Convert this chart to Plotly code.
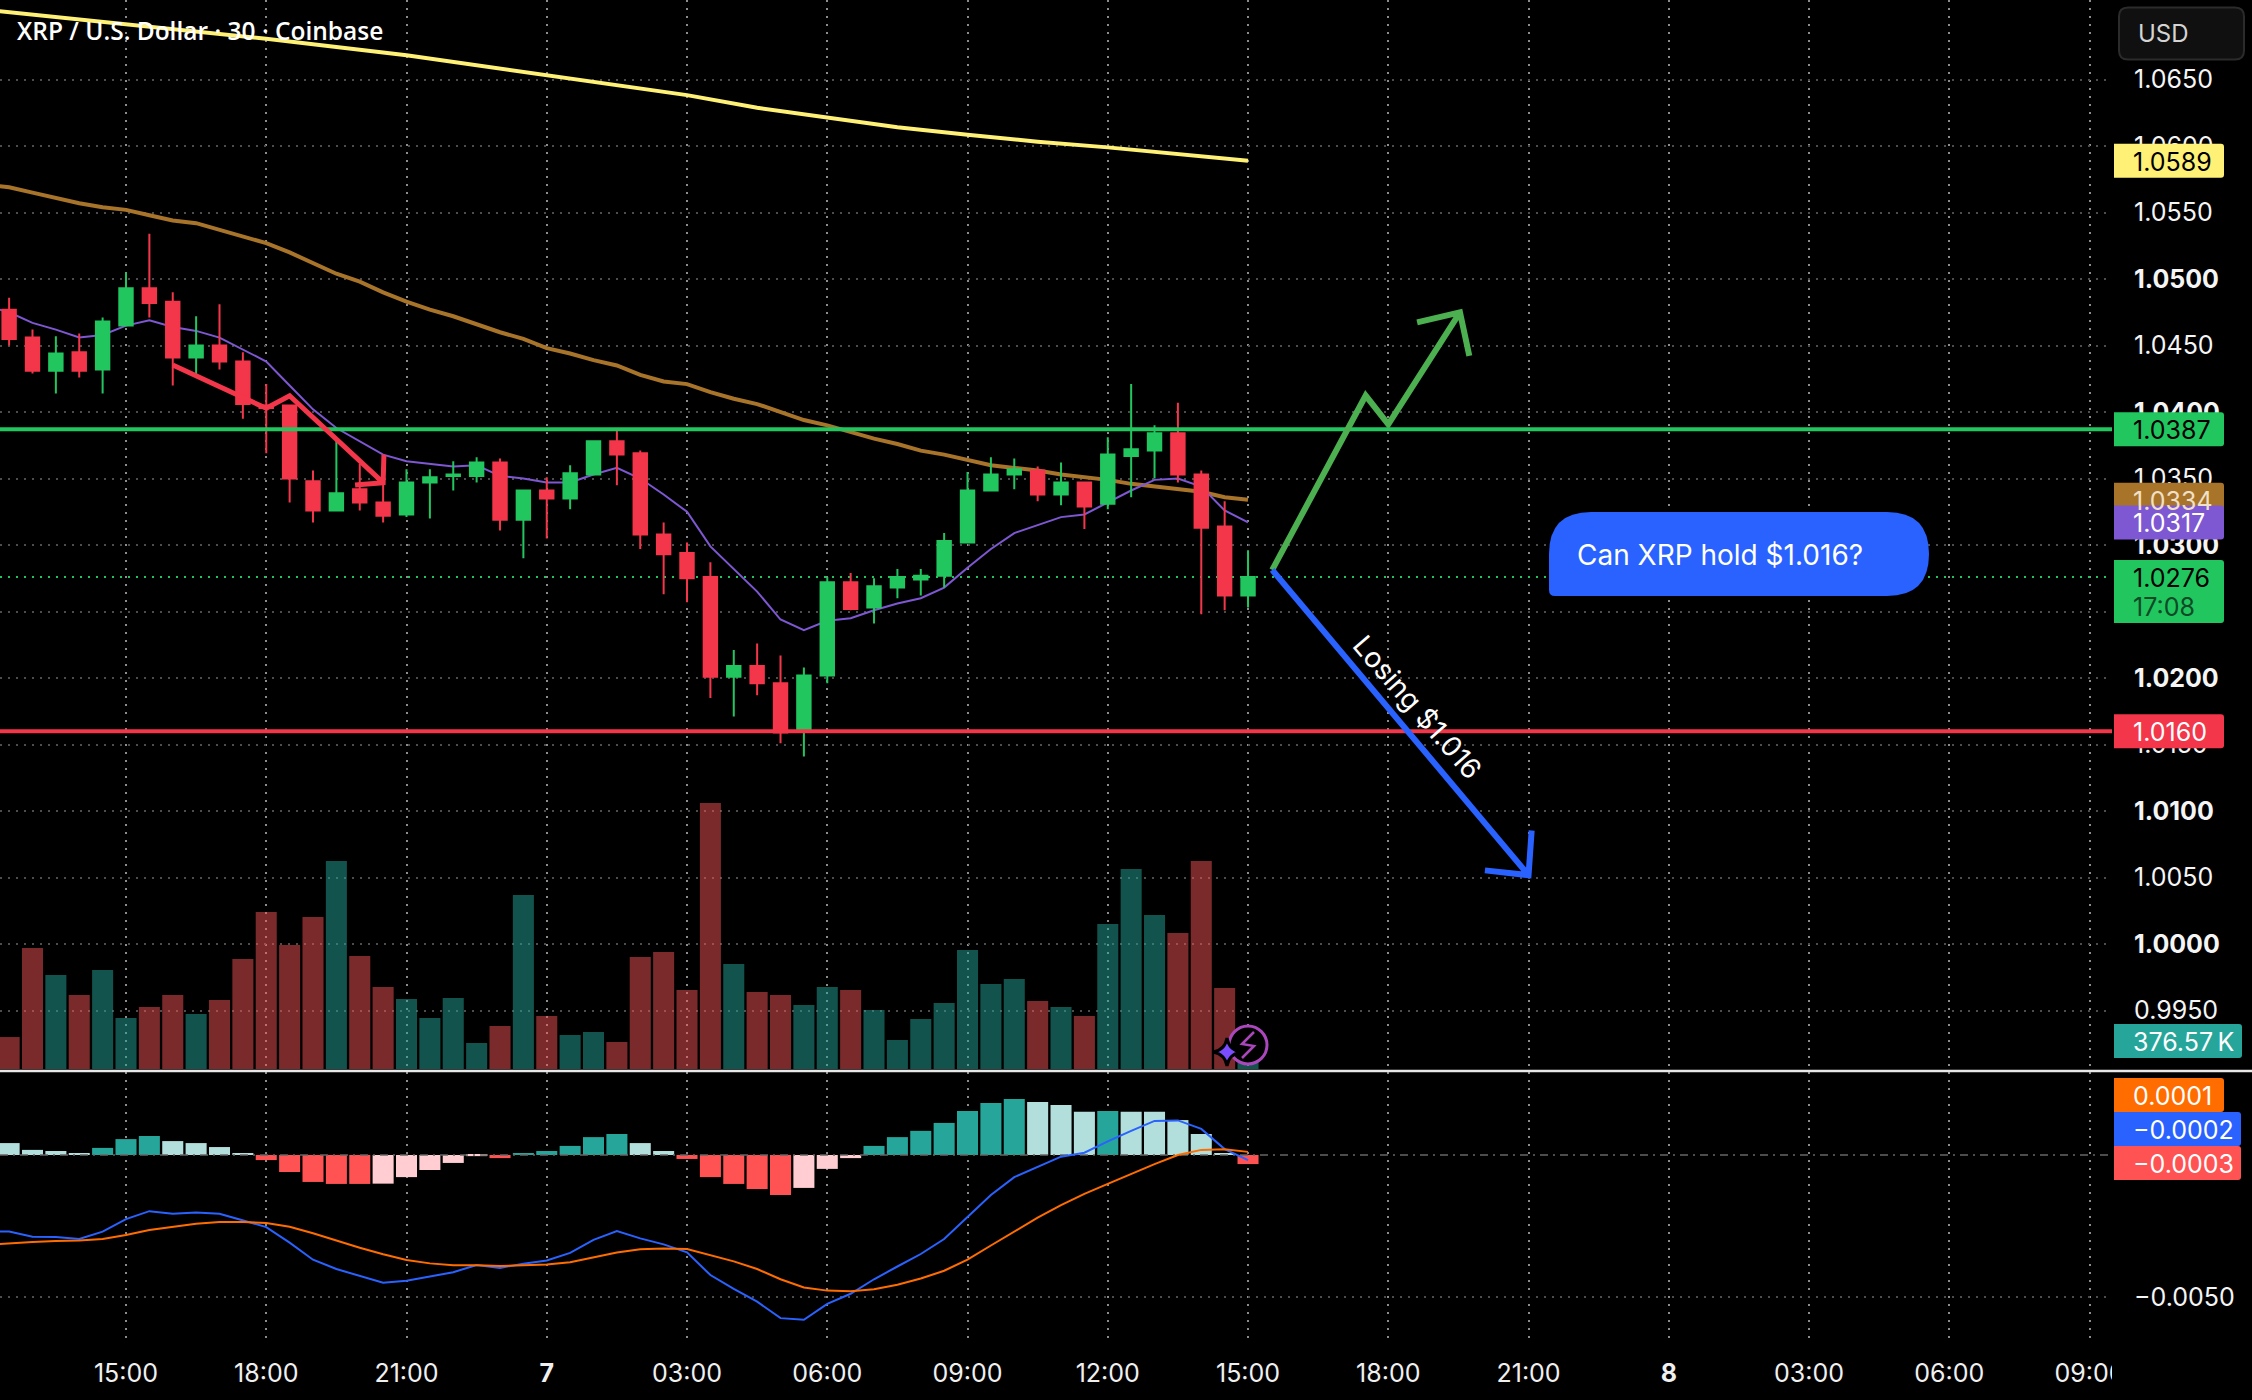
import pandas as pd
import plotly.graph_objects as go

W, H = 2252, 1400
RED = "#F4364A"
GREEN = "#22C65F"
FONT = "Inter"
TICK_SIZE = 25

# candles, 30 min bars from 12:30 on the 6th to 15:00 on the 7th
bar_times = pd.date_range("2021-12-06 12:30", periods=54, freq="30min")
line_times = pd.date_range("2021-12-06 12:00", periods=55, freq="30min")
opens = [1.0477, 1.0456, 1.0431, 1.0445, 1.0432, 1.0465, 1.0493, 1.0483, 1.0441, 1.0450, 1.0438,
         1.0405, 1.0405, 1.0348, 1.0326, 1.0342, 1.0332, 1.0323, 1.0347, 1.0352, 1.0352, 1.0362,
         1.0319, 1.0341, 1.0335, 1.0353, 1.0378, 1.0369, 1.0308, 1.0294, 1.0276, 1.0201, 1.0209,
         1.0196, 1.0160, 1.0202, 1.0272, 1.0253, 1.0268, 1.0274, 1.0277, 1.0302, 1.0341, 1.0353,
         1.0356, 1.0338, 1.0347, 1.0331, 1.0367, 1.0371, 1.0384, 1.0353, 1.0314, 1.0262]
highs = [1.0486, 1.0462, 1.0457, 1.0459, 1.0471, 1.0505, 1.0534, 1.0490, 1.0472, 1.0481, 1.0445,
         1.0421, 1.0405, 1.0356, 1.0380, 1.0361, 1.0368, 1.0357, 1.0357, 1.0363, 1.0366, 1.0365,
         1.0341, 1.0351, 1.0360, 1.0378, 1.0386, 1.0371, 1.0317, 1.0302, 1.0287, 1.0221, 1.0226,
         1.0217, 1.0208, 1.0276, 1.0279, 1.0275, 1.0282, 1.0282, 1.0309, 1.0355, 1.0366, 1.0365,
         1.0359, 1.0362, 1.0347, 1.0381, 1.0421, 1.0390, 1.0407, 1.0356, 1.0333, 1.0296]
lows = [1.0450, 1.0429, 1.0414, 1.0426, 1.0414, 1.0465, 1.0471, 1.0420, 1.0426, 1.0432, 1.0395,
        1.0369, 1.0332, 1.0317, 1.0326, 1.0326, 1.0317, 1.0321, 1.0320, 1.0341, 1.0347, 1.0311,
        1.0290, 1.0305, 1.0327, 1.0353, 1.0345, 1.0297, 1.0263, 1.0257, 1.0185, 1.0171, 1.0187,
        1.0151, 1.0141, 1.0196, 1.0251, 1.0241, 1.0260, 1.0262, 1.0268, 1.0302, 1.0341, 1.0342,
        1.0333, 1.0330, 1.0312, 1.0327, 1.0336, 1.0350, 1.0347, 1.0248, 1.0251, 1.0253]
closes = [1.0455, 1.0431, 1.0444, 1.0431, 1.0468, 1.0493, 1.0482, 1.0441, 1.0450, 1.0438, 1.0406,
          1.0403, 1.0350, 1.0326, 1.0339, 1.0332, 1.0322, 1.0347, 1.0351, 1.0353, 1.0362, 1.0319,
          1.0341, 1.0335, 1.0354, 1.0378, 1.0368, 1.0308, 1.0293, 1.0275, 1.0201, 1.0209, 1.0196,
          1.0159, 1.0202, 1.0272, 1.0252, 1.0269, 1.0276, 1.0277, 1.0303, 1.0341, 1.0353, 1.0357,
          1.0338, 1.0347, 1.0329, 1.0368, 1.0372, 1.0384, 1.0353, 1.0313, 1.0262, 1.0276]

# volume in thousands
volume = [430, 1627, 1264, 995, 1332, 686, 834, 995, 740, 928, 1480, 2112, 1668, 2044, 2798, 1520,
          1103, 942, 686, 955, 350, 578, 2340, 713, 457, 498, 363, 1506, 1574, 1063, 3578, 1412,
          1036, 995, 861, 1103, 1063, 794, 390, 673, 888, 1601, 1143, 1211, 915, 834, 713, 1950,
          2690, 2071, 1829, 2798, 1089, 376.57]

# moving averages
ma_slow_times = ["2021-12-06 12:00", "2021-12-06 15:00", "2021-12-06 18:00", "2021-12-06 21:00",
                 "2021-12-07 00:00", "2021-12-07 03:00", "2021-12-07 04:30", "2021-12-07 06:00",
                 "2021-12-07 07:30", "2021-12-07 09:00", "2021-12-07 10:30", "2021-12-07 12:00",
                 "2021-12-07 13:30", "2021-12-07 15:00"]
ma_slow = [1.07025, 1.06917, 1.06807, 1.06682, 1.06534, 1.06383, 1.06288, 1.06213, 1.06141,
           1.06085, 1.06032, 1.05990, 1.05938, 1.05890]
ma_mid = [1.0571, 1.0569, 1.0565, 1.0561, 1.0557, 1.0554, 1.0552, 1.0548, 1.0544, 1.0542, 1.0537,
          1.0532, 1.0527, 1.0520, 1.0512, 1.0504, 1.0498, 1.0490, 1.0483, 1.0477, 1.0472, 1.0466,
          1.0460, 1.0455, 1.0448, 1.0444, 1.0439, 1.0435, 1.0428, 1.0423, 1.0421, 1.0415, 1.0410,
          1.0406, 1.0400, 1.0394, 1.0390, 1.0385, 1.0380, 1.0376, 1.0371, 1.0368, 1.0364, 1.0360,
          1.0358, 1.0356, 1.0353, 1.0351, 1.0349, 1.0346, 1.0344, 1.0342, 1.0340, 1.0336, 1.0334]
ma_fast = [1.0480, 1.0475, 1.0467, 1.0462, 1.0456, 1.0458, 1.0465, 1.0469, 1.0464, 1.0461, 1.0456,
           1.0447, 1.0438, 1.0420, 1.0402, 1.0388, 1.0378, 1.0368, 1.0363, 1.0361, 1.0359, 1.0360,
           1.0352, 1.0350, 1.0347, 1.0347, 1.0353, 1.0358, 1.0350, 1.0338, 1.0325, 1.0299, 1.0282,
           1.0265, 1.0244, 1.0236, 1.0243, 1.0245, 1.0251, 1.0256, 1.0260, 1.0268, 1.0283, 1.0297,
           1.0309, 1.0315, 1.0321, 1.0323, 1.0332, 1.0341, 1.0349, 1.0350, 1.0344, 1.0326, 1.0317]

# macd pane
hist = [0.00042, 0.00018, 0.00014, 0.00007, 0.00025, 0.00056, 0.00067, 0.00049, 0.00042, 0.00028,
        0.00004, -0.00018, -0.00060, -0.00095, -0.00102, -0.00102, -0.00101, -0.00078, -0.00053,
        -0.00028, -0.00004, -0.00011, 0.00007, 0.00014, 0.00032, 0.00063, 0.00074, 0.00042,
        0.00014, -0.00014, -0.00078, -0.00102, -0.00120, -0.00141, -0.00116, -0.00049, -0.00011,
        0.00032, 0.00063, 0.00085, 0.00113, 0.00155, 0.00183, 0.00197, 0.00187, 0.00176, 0.00152,
        0.00155, 0.00152, 0.00152, 0.00123, 0.00074, 0.00007, -0.00032]
macd = [-0.00268, -0.00270, -0.00288, -0.00289, -0.00296, -0.00270, -0.00226, -0.00198, -0.00207,
        -0.00203, -0.00207, -0.00231, -0.00254, -0.00309, -0.00369, -0.00402, -0.00426, -0.00450,
        -0.00443, -0.00429, -0.00413, -0.00388, -0.00398, -0.00383, -0.00372, -0.00345, -0.00299,
        -0.00268, -0.00294, -0.00315, -0.00343, -0.00423, -0.00472, -0.00517, -0.00575, -0.00581,
        -0.00525, -0.00489, -0.00438, -0.00393, -0.00349, -0.00296, -0.00218, -0.00141, -0.00078,
        -0.00041, -0.00006, 0.00008, 0.00048, 0.00085, 0.00120, 0.00122, 0.00092, 0.00021, -0.00018]
signal = [-0.00317, -0.00311, -0.00307, -0.00303, -0.00301, -0.00296, -0.00282, -0.00264, -0.00253,
          -0.00242, -0.00236, -0.00236, -0.00240, -0.00253, -0.00276, -0.00302, -0.00327, -0.00350,
          -0.00370, -0.00382, -0.00389, -0.00389, -0.00391, -0.00389, -0.00386, -0.00378, -0.00362,
          -0.00344, -0.00332, -0.00330, -0.00331, -0.00352, -0.00375, -0.00402, -0.00438, -0.00467,
          -0.00478, -0.00480, -0.00473, -0.00457, -0.00435, -0.00408, -0.00369, -0.00319, -0.00269,
          -0.00221, -0.00177, -0.00137, -0.00102, -0.00067, -0.00032, 0.0, 0.00018, 0.00020, 0.00011]

# hand drawn lines on the chart
red_arrow_x = ["2021-12-06 16:00", "2021-12-06 18:00", "2021-12-06 18:30", "2021-12-06 20:30",
               "2021-12-06 19:54", "2021-12-06 20:30", "2021-12-06 20:31"]
red_arrow_y = [1.04354, 1.04028, 1.04123, 1.03469, 1.03451, 1.03469, 1.03677]
green_arrow_x = ["2021-12-07 15:31", "2021-12-07 17:31", "2021-12-07 18:00", "2021-12-07 19:32",
                 "2021-12-07 18:37", "2021-12-07 19:32", "2021-12-07 19:44"]
green_arrow_y = [1.02813, 1.04124, 1.03907, 1.04749, 1.04674, 1.04749, 1.04422]
blue_arrow_x = ["2021-12-07 15:31", "2021-12-07 21:00", "2021-12-07 20:04", "2021-12-07 21:00",
                "2021-12-07 21:04"]
blue_arrow_y = [1.02813, 1.00518, 1.00554, 1.00518, 1.00854]

support = 1.0160
resistance = 1.0387
last_price = 1.0276

x_range = ["2021-12-06 12:18:18", "2021-12-08 09:28:48"]
time_ticks = pd.date_range("2021-12-06 15:00", "2021-12-08 09:00", freq="3h")
time_labels = ["15:00", "18:00", "21:00", "<b>7</b>", "03:00", "06:00", "09:00", "12:00", "15:00",
               "18:00", "21:00", "<b>8</b>", "03:00", "06:00", "09:00"]
price_ticks = [1.065, 1.06, 1.055, 1.05, 1.045, 1.04, 1.035, 1.03, 1.025, 1.02, 1.015, 1.01, 1.005,
               1.0, 0.995]
price_labels = ["1.0650", "1.0600", "1.0550", "<b>1.0500</b>", "1.0450", "<b>1.0400</b>", "1.0350",
                "<b>1.0300</b>", "1.0250", "<b>1.0200</b>", "1.0150", "<b>1.0100</b>", "1.0050",
                "<b>1.0000</b>", "0.9950"]
price_range = [0.99053, 1.07098]


def px(x):
    return x / W


def py(y):
    return 1 - y / H


def tag_path(w, up, down, r=3):
    return (f"M0,{up} H{w - r} Q{w},{up} {w},{up - r} V{down + r} Q{w},{down} {w - r},{down} "
            f"H0 Z")


fig = go.Figure()

# volume is the base layer, everything else sits on overlays
vol_colors = ["rgba(38,166,154,0.5)" if c >= o else "rgba(244,84,84,0.5)"
              for o, c in zip(opens, closes)]
fig.add_trace(go.Bar(x=bar_times, y=volume, marker=dict(color=vol_colors, line_width=0),
                     xaxis="x", yaxis="y"))

fig.add_trace(go.Scatter(x=x_range, y=[last_price, last_price], mode="lines", xaxis="x", yaxis="y2",
                         line=dict(color=GREEN, width=2, dash="2px,6px")))
fig.add_trace(go.Scatter(x=ma_slow_times, y=ma_slow, mode="lines", xaxis="x", yaxis="y2",
                         line=dict(color="#FFF176", width=4)))
fig.add_trace(go.Scatter(x=line_times, y=ma_mid, mode="lines", xaxis="x", yaxis="y2",
                         line=dict(color="#A8742A", width=4)))
fig.add_trace(go.Scatter(x=line_times, y=ma_fast, mode="lines", xaxis="x", yaxis="y2",
                         line=dict(color="#7E57D2", width=2)))

fig.add_trace(go.Candlestick(x=bar_times, open=opens, high=highs, low=lows, close=closes,
                             xaxis="x", yaxis="y3", whiskerwidth=0,
                             increasing=dict(line=dict(color=GREEN, width=2), fillcolor=GREEN),
                             decreasing=dict(line=dict(color=RED, width=2), fillcolor=RED)))

fig.add_trace(go.Scatter(x=x_range, y=[resistance, resistance], mode="lines", xaxis="x", yaxis="y4",
                         line=dict(color=GREEN, width=4)))
fig.add_trace(go.Scatter(x=x_range, y=[support, support], mode="lines", xaxis="x", yaxis="y4",
                         line=dict(color=RED, width=4)))
fig.add_trace(go.Scatter(x=red_arrow_x, y=red_arrow_y, mode="lines", xaxis="x", yaxis="y4",
                         line=dict(color=RED, width=5)))
fig.add_trace(go.Scatter(x=green_arrow_x, y=green_arrow_y, mode="lines", xaxis="x", yaxis="y4",
                         line=dict(color="#4CAF50", width=6)))
fig.add_trace(go.Scatter(x=blue_arrow_x, y=blue_arrow_y, mode="lines", xaxis="x", yaxis="y4",
                         line=dict(color="#2962FF", width=6)))

# macd histogram colours follow the direction of the bar
hist_colors = []
for i, val in enumerate(hist):
    prev = hist[i - 1] if i > 0 else val + 1
    if val >= 0:
        hist_colors.append("#26A69A" if val > prev else "#B2DFDB")
    else:
        hist_colors.append("#FF5252" if val <= prev else "#FFCDD2")
fig.add_trace(go.Bar(x=bar_times, y=hist, marker=dict(color=hist_colors, line_width=0),
                     xaxis="x2", yaxis="y5"))
fig.add_trace(go.Scatter(x=x_range, y=[0, 0], mode="lines", xaxis="x2", yaxis="y5",
                         line=dict(color="#666666", width=1.5, dash="8px,5px,2px,5px")))
fig.add_trace(go.Scatter(x=line_times, y=macd, mode="lines", xaxis="x2", yaxis="y5",
                         line=dict(color="#2962FF", width=2)))
fig.add_trace(go.Scatter(x=line_times, y=signal, mode="lines", xaxis="x2", yaxis="y5",
                         line=dict(color="#FF6D00", width=2)))

grid_v = dict(showgrid=True, gridcolor="#8c8c8c", gridwidth=2, griddash="2px,6px", zeroline=False,
              showline=False, type="date", range=x_range, tickmode="array", tickvals=time_ticks,
              automargin=False)
grid_h = dict(showgrid=True, gridcolor="#4d4d4d", gridwidth=2, griddash="2px,6px", zeroline=False,
              showline=False, automargin=False)
main_domain = [py(1070), 1]

fig.update_layout(
    width=W, height=H, margin=dict(l=0, r=0, t=0, b=0), autosize=False,
    paper_bgcolor="#000000", plot_bgcolor="#000000", showlegend=False, bargap=0.1, barmode="overlay",
    boxgap=0.18, font=dict(family=FONT, color="#FFFFFF", size=TICK_SIZE),
    xaxis=dict(domain=[0, px(2112)], anchor="y", showticklabels=False, rangeslider=dict(visible=False),
               **grid_v),
    xaxis2=dict(domain=[0, px(2112)], anchor="y5", ticktext=time_labels, ticks="outside", ticklen=13,
                tickcolor="rgba(0,0,0,0)", tickfont=dict(family=FONT, size=TICK_SIZE, color="#F0F0F0"), **grid_v),
    yaxis=dict(domain=main_domain, range=[-13.45, 14378], showgrid=False, zeroline=False,
               showticklabels=False, automargin=False),
    yaxis2=dict(overlaying="y", side="right", anchor="x", range=price_range, tickmode="array",
                tickvals=price_ticks, ticktext=price_labels, ticks="outside", ticklen=16,
                tickcolor="rgba(0,0,0,0)", tickfont=dict(family=FONT, size=TICK_SIZE, color="#F5F5F5"), **grid_h),
    yaxis3=dict(overlaying="y", side="right", anchor="x", range=price_range, visible=False, automargin=False),
    yaxis4=dict(overlaying="y", side="right", anchor="x", range=price_range, visible=False, automargin=False),
    yaxis5=dict(domain=[py(1338), py(1072)], anchor="x2", side="right", range=[-0.00645, 0.002925],
                tickmode="array", tickvals=[-0.005], ticktext=["\u22120.0050"], ticks="outside",
                ticklen=16, tickcolor="rgba(0,0,0,0)",
                tickfont=dict(family=FONT, size=TICK_SIZE, color="#F5F5F5"), **grid_h),
)

# pane divider, and a black block to clip the last time label at the scale edge
fig.add_shape(type="line", xref="paper", yref="paper", x0=0, x1=1, y0=py(1071), y1=py(1071),
              line=dict(color="#E8E8E8", width=2.5), layer="above")
fig.add_shape(type="rect", xref="paper", yref="paper", x0=px(2112), x1=px(2135), y0=py(1400), y1=py(1345),
              fillcolor="#000000", line_width=0, layer="above")

# value tags on the scale: value, text, fill, text colour
price_tags = [(1.0589, "1.0589", "#FFF176", "#000000"),
              (resistance, "1.0387", GREEN, "#000000"),
              (1.0334, "1.0334", "#A8742A", "#F0E0C8"),
              (1.0317, "1.0317", "#7E57D2", "#FFFFFF"),
              (last_price, "1.0276", GREEN, "#000000"),
              (support, "1.0160", RED, "#FFFFFF")]
for val, text, fill, fg in price_tags:
    down = -46 if val == last_price else -17
    fig.add_shape(type="path", xref="paper", yref="y2", xsizemode="pixel", ysizemode="pixel",
                  xanchor=px(2114), yanchor=val, path=tag_path(110, 17, down), fillcolor=fill,
                  line_width=0, layer="above")
    fig.add_annotation(xref="paper", yref="y2", x=px(2131), y=val, yshift=-1, text=text, showarrow=False,
                       xanchor="left", yanchor="middle", font=dict(family=FONT, size=TICK_SIZE, color=fg))
fig.add_annotation(xref="paper", yref="y2", x=px(2131), y=last_price, yshift=-30, text="17:08", showarrow=False,
                   xanchor="left", yanchor="middle", font=dict(family=FONT, size=TICK_SIZE, color="#0B4A25"))

fig.add_shape(type="path", xref="paper", yref="y", xsizemode="pixel", ysizemode="pixel", xanchor=px(2114),
              yanchor=volume[-1], path=tag_path(128, 17, -17), fillcolor="#26A69A", line_width=0, layer="above")
fig.add_annotation(xref="paper", yref="y", x=px(2131), y=volume[-1], yshift=-1, text="376.57\u2009K", showarrow=False,
                   xanchor="left", yanchor="middle", font=dict(family=FONT, size=TICK_SIZE, color="#FFFFFF"))

macd_tags = [(1095, 110, "0.0001", "#FF6D00"), (1129, 127, "\u22120.0002", "#2962FF"),
             (1163, 127, "\u22120.0003", "#FF5252")]
for ypos, wid, text, fill in macd_tags:
    fig.add_shape(type="path", xref="paper", yref="paper", xsizemode="pixel", ysizemode="pixel",
                  xanchor=px(2114), yanchor=py(ypos), path=tag_path(wid, 17, -17), fillcolor=fill,
                  line_width=0, layer="above")
    fig.add_annotation(xref="paper", yref="paper", x=px(2131), y=py(ypos), yshift=-1, text=text, showarrow=False,
                       xanchor="left", yanchor="middle", font=dict(family=FONT, size=TICK_SIZE, color="#FFFFFF"))

# currency button
fig.add_shape(type="path", xref="paper", yref="paper", xsizemode="pixel", ysizemode="pixel",
              xanchor=px(2119), yanchor=py(59.5),
              path="M9,0 H116 Q125,0 125,9 V43 Q125,52 116,52 H9 Q0,52 0,43 V9 Q0,0 9,0 Z",
              fillcolor="#101010", line=dict(color="#2B2B2B", width=2), layer="above")
fig.add_annotation(xref="paper", yref="paper", x=px(2136), y=py(34), text="USD", showarrow=False,
                   xanchor="left", yanchor="middle", font=dict(family=FONT, size=24, color="#D4D4D4"))

# speech bubble and notes
fig.add_shape(type="path", xref="paper", yref="paper", xsizemode="pixel", ysizemode="pixel",
              xanchor=px(1549), yanchor=py(596),
              path="M6,0 H338 Q380,0 380,42 Q380,84 338,84 H42 Q0,84 0,42 V6 Q0,0 6,0 Z",
              fillcolor="#2962FF", line_width=0, layer="above")
fig.add_annotation(xref="paper", yref="paper", x=px(1720), y=py(555), text="Can XRP hold $1.016?", showarrow=False,
                   xanchor="center", yanchor="middle", font=dict(family=FONT, size=28, color="#FFFFFF"))
fig.add_annotation(xref="x", yref="y2", x="2021-12-07 18:37", y=1.01782, text="Losing $1.016", showarrow=False,
                   textangle=49, xanchor="center", yanchor="middle", font=dict(family=FONT, size=28, color="#FFFFFF"))
fig.add_annotation(xref="paper", yref="paper", x=px(15), y=py(31), text="XRP / U.S. Dollar \u00b7 30 \u00b7 Coinbase",
                   showarrow=False, xanchor="left", yanchor="middle",
                   font=dict(family="Open Sans", size=24.5, color="#FFFFFF", weight=600))

# alert icon over the last bar
icon_x, icon_y = px(1248), py(1045)
fig.add_shape(type="circle", xref="paper", yref="paper", xsizemode="pixel", ysizemode="pixel", xanchor=icon_x,
              yanchor=icon_y, x0=-19, x1=19, y0=-19, y1=19, fillcolor="#000000",
              line=dict(color="#AB47BC", width=3), layer="above")
fig.add_shape(type="path", xref="paper", yref="paper", xsizemode="pixel", ysizemode="pixel", xanchor=icon_x,
              yanchor=icon_y, path="M6,13 L-6,1 L6,-1 L-6,-13", line=dict(color="#AB47BC", width=2.5), layer="above")
fig.add_shape(type="path", xref="paper", yref="paper", xsizemode="pixel", ysizemode="pixel", xanchor=px(1227),
              yanchor=py(1052), path="M0,14 Q2,2 14,0 Q2,-2 0,-14 Q-2,-2 -14,0 Q-2,2 0,14 Z",
              fillcolor="#7C4DFF", line=dict(color="#000000", width=3), layer="above")

fig.write_html("out.html", config=dict(displayModeBar=False),
               post_script="document.body.style.margin='0';document.body.style.background='#000';")
